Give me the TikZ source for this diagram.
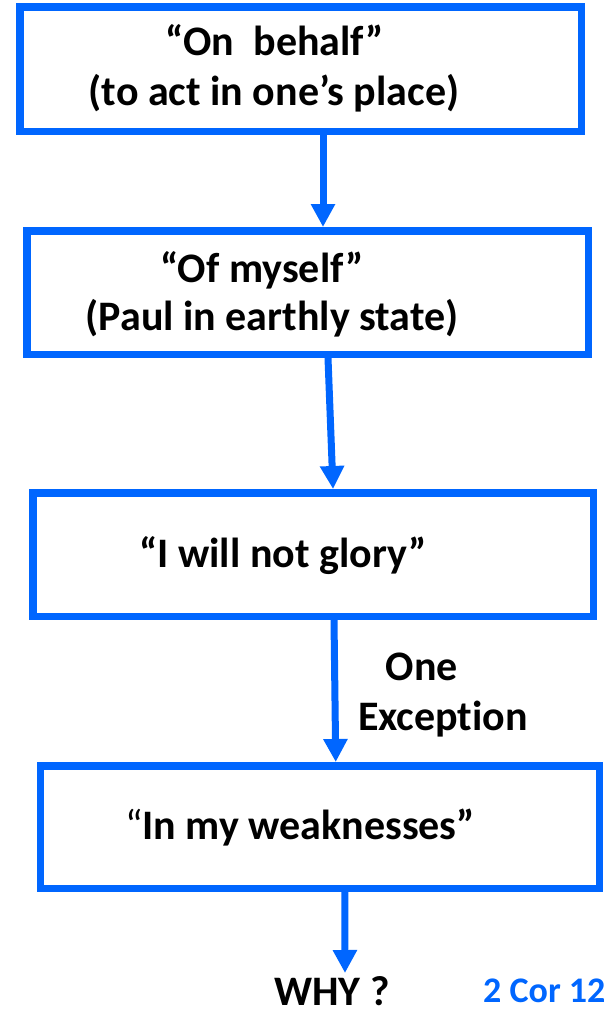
\documentclass[tikz,border=0pt]{standalone}
\usepackage{fontspec}
\setmainfont[Ligatures=NoCommon]{Carlito}
\usetikzlibrary{arrows.meta,calc}
\definecolor{boxblue}{RGB}{0,102,255}
\begin{document}
\begin{tikzpicture}[x=1pt,y=-1pt,
  stepbox/.style={draw=boxblue,line width=7.5pt,fill=white,inner sep=0pt},
  flow/.style={draw=boxblue,line width=7pt,-{Triangle[length=23pt,width=23pt]}},
  txt/.style={anchor=base,inner sep=0pt,font=\fontsize{42}{50}\selectfont\bfseries}]
\useasboundingbox (0,0) rectangle (603,1012);
% boxes
\node[stepbox,minimum width=561.5pt,minimum height=124.5pt] (b1) at (300.5,69) {};
\node[stepbox,minimum width=561.5pt,minimum height=123.5pt] (b2) at (307.5,292.5) {};
\node[stepbox,minimum width=560.5pt,minimum height=123.5pt] (b3) at (313,554.5) {};
\node[stepbox,minimum width=559pt,minimum height=122.5pt] (b4) at (319.75,827) {};
% texts
\node[txt] (t1a) at (275,55) {“On~~behalf”};
\node[txt] (t1b) at (274,105) {(to act in one’s place)};
\node[txt] (t2a) at (262,282) {“Of myself”};
\node[txt] (t2b) at (272,330) {(Paul in earthly state)};
\node[txt] (t3) at (283,567) {“I will not glory”};
\node[txt] (t4) at (300,839) {{\mdseries “}In my weaknesses”};
\node[txt] (one) at (422,680) {One};
\node[txt] (exc) at (443,730) {Exception};
\node[txt] (why) at (332,1005) {WHY ?};
\node[anchor=base west,inner sep=0pt,font=\fontsize{36}{40}\selectfont\bfseries,text=boxblue] (ref) at (483,1002) {2 Cor 12};
\coordinate (end4) at (345,973);
% connectors
\draw[flow] ([xshift=22.5pt]b1.south) -- ([xshift=15.5pt]b2.north);
\draw[flow] ([xshift=20.5pt]b2.south) -- ([xshift=20pt]b3.north);
\draw[flow] ([xshift=21pt]b3.south) -- ([xshift=16pt]b4.north);
\draw[flow] ([xshift=25pt]b4.south) -- (end4);
\end{tikzpicture}
\end{document}
